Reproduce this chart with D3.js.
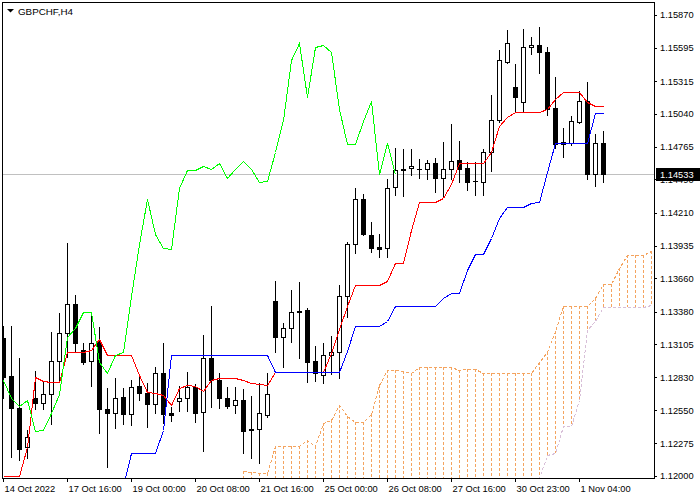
<!DOCTYPE html>
<html><head><meta charset="utf-8">
<script src="https://cdn.jsdelivr.net/npm/d3@7"></script>
<style>
html,body{margin:0;padding:0;background:#fff;}
svg{display:block;}
</style></head><body>
<svg id="c" width="700" height="500"></svg>
<script>
// ---- data (GBPCHF, H4) ----
const symbolTitle = "GBPCHF,H4";
const lastPrice = 1.14533;
const opens = [1.13159,1.12840,1.12571,1.12243,1.12655,1.12613,1.12688,1.12965,1.13200,1.13444,
1.13058,1.12965,1.13125,1.12562,1.12529,1.12663,1.12520,1.12756,1.12697,1.12604,
1.12865,1.12529,1.12630,1.12655,1.12747,1.12537,1.12991,1.12806,1.12655,1.12596,
1.12638,1.12395,1.12395,1.12512,1.13469,1.13167,1.13242,1.13385,1.13394,1.12965,
1.12848,1.13016,1.13041,1.13511,1.13948,1.14325,1.14023,1.13922,1.13914,1.14426,
1.14577,1.14586,1.14577,1.14577,1.14628,1.14502,1.14577,1.14653,1.14586,1.14477,
1.14468,1.14720,1.14989,1.15476,1.15266,1.15140,1.15601,1.15618,1.15559,1.15089,
1.14804,1.14796,1.14972,1.15148,1.14535,1.14796];
const highs = [1.13259,1.13259,1.12991,1.12386,1.12881,1.12789,1.13209,1.13368,1.13956,1.13519,
1.13117,1.13343,1.13251,1.12739,1.12823,1.12739,1.12806,1.12848,1.12781,1.12915,
1.13117,1.12579,1.12756,1.12873,1.12772,1.13184,1.13427,1.12865,1.12747,1.12747,
1.12730,1.12672,1.12781,1.12865,1.13637,1.13284,1.13561,1.13629,1.13410,1.13091,
1.13117,1.13175,1.13603,1.13964,1.14418,1.14367,1.14132,1.14032,1.14493,1.14754,
1.14745,1.14745,1.14661,1.14653,1.14670,1.14804,1.14955,1.14812,1.14636,1.14636,
1.14745,1.15199,1.15576,1.15744,1.15459,1.15753,1.15685,1.15769,1.15601,1.15350,
1.14921,1.15022,1.15232,1.15308,1.14871,1.14896];
const lows = [1.12655,1.12160,1.12134,1.12151,1.12562,1.12562,1.12437,1.12806,1.12999,1.13041,
1.12940,1.12756,1.12361,1.12076,1.12403,1.12437,1.12428,1.12638,1.12411,1.12529,
1.12445,1.12462,1.12546,1.12546,1.12453,1.12210,1.12579,1.12571,1.12571,1.12529,
1.12193,1.12151,1.12109,1.12495,1.13041,1.12915,1.13125,1.12991,1.12789,1.12798,
1.12781,1.12856,1.12823,1.13335,1.13872,1.14023,1.13880,1.13839,1.13839,1.14359,
1.14351,1.14527,1.14502,1.14493,1.14384,1.14351,1.14493,1.14468,1.14401,1.14359,
1.14359,1.14560,1.14972,1.15467,1.15056,1.15056,1.15543,1.15383,1.15031,1.14754,
1.14678,1.14779,1.14963,1.14493,1.14435,1.14468];
const closes = [1.12831,1.12571,1.12227,1.12327,1.12613,1.12688,1.12965,1.13200,1.13444,1.13117,
1.12957,1.13117,1.12562,1.12529,1.12655,1.12520,1.12747,1.12697,1.12604,1.12865,
1.12520,1.12512,1.12655,1.12747,1.12529,1.12991,1.12806,1.12655,1.12588,1.12638,
1.12378,1.12386,1.12529,1.12688,1.13167,1.13242,1.13377,1.13377,1.12957,1.12865,
1.13016,1.13041,1.13511,1.13948,1.14325,1.14032,1.13914,1.13906,1.14418,1.14569,
1.14569,1.14602,1.14578,1.14628,1.14502,1.14577,1.14644,1.14577,1.14468,1.14476,
1.14720,1.14989,1.15492,1.15635,1.15182,1.15601,1.15618,1.15559,1.15081,1.14787,
1.14787,1.14980,1.15148,1.14535,1.14796,1.14533];
// Tenkan-sen (red), bars 0..75
const tenkan = [1.12000,1.12000,1.12000,1.12243,1.12831,1.12798,1.12789,1.12789,1.13041,1.13041,
1.13041,1.13058,1.13150,1.13016,1.13016,1.13016,1.13016,1.12848,1.12705,1.12697,
1.12680,1.12596,1.12739,1.12764,1.12756,1.12714,1.12806,1.12823,1.12823,1.12823,
1.12806,1.12781,1.12772,1.12764,1.12873,1.12873,1.12873,1.12873,1.12873,1.12873,
1.12873,1.13033,1.13234,1.13427,1.13603,1.13603,1.13603,1.13603,1.13637,1.13788,
1.13788,1.14065,1.14300,1.14300,1.14300,1.14334,1.14451,1.14628,1.14628,1.14628,
1.14628,1.14720,1.14938,1.15014,1.15056,1.15056,1.15056,1.15056,1.15081,1.15165,
1.15224,1.15224,1.15224,1.15140,1.15106,1.15106];
// Kijun-sen (blue), bars 14..75
const kijunStart = 14;
const kijun = [1.11874,1.11916,1.12193,1.12193,1.12193,1.12193,1.12386,1.13016,1.13016,1.13016,
1.13016,1.13016,1.13016,1.13016,1.13016,1.13016,1.13016,1.13016,1.13016,1.13016,
1.12873,1.12873,1.12873,1.12873,1.12873,1.12873,1.12873,1.12873,1.12873,1.13049,
1.13259,1.13259,1.13259,1.13259,1.13301,1.13427,1.13427,1.13427,1.13427,1.13427,
1.13427,1.13494,1.13536,1.13536,1.13729,1.13864,1.13864,1.13998,1.14166,1.14258,
1.14258,1.14258,1.14292,1.14300,1.14552,1.14796,1.14796,1.14796,1.14796,1.14796,
1.15047,1.15047];
// Senkou span A / B (shifted forward), bars 30..81
const spanStart = 30;
const spanA = [1.12042,1.12034,1.12025,1.12025,1.12252,1.12252,1.12252,1.12252,1.12302,1.12252,
1.12445,1.12470,1.12596,1.12504,1.12453,1.12453,1.12520,1.12764,1.12890,1.12890,
1.12881,1.12865,1.12915,1.12915,1.12915,1.12915,1.12915,1.12890,1.12898,1.12898,
1.12865,1.12865,1.12865,1.12865,1.12865,1.12865,1.12865,1.12957,1.13041,1.13217,
1.13427,1.13427,1.13427,1.13427,1.13494,1.13612,1.13612,1.13746,1.13855,1.13855,
1.13855,1.13889];
const spanB = [1.11850,1.11850,1.11850,1.11850,1.11850,1.11850,1.11850,1.11850,1.11850,1.11850,
1.11850,1.11850,1.11850,1.11850,1.11850,1.11850,1.11850,1.11850,1.11850,1.11850,
1.11850,1.11850,1.11850,1.11850,1.11850,1.11850,1.11850,1.11983,1.12176,1.12193,
1.12420,1.12420,1.12638,1.13226,1.13301,1.13419,1.13419,1.13419,1.13419,1.13419,
1.13419,1.13436].slice(0);
// Chikou span (lime) = closes shifted back 26 bars
const chikouShift = 26;
const priceTicks = [1.15870,1.15595,1.15315,1.15040,1.14765,1.14490,1.14210,1.13935,1.13660,1.13380,1.13105,1.12830,1.12550,1.12275,1.12000];
const timeLabels = ["14 Oct 2022","17 Oct 16:00","19 Oct 00:00","20 Oct 08:00","21 Oct 16:00","25 Oct 00:00","26 Oct 08:00","27 Oct 16:00","30 Oct 23:00","1 Nov 04:00"];
const timeBars = [0,8,16,24,32,40,48,56,64,72];
</script>
<script>
// fix spanB length (pad leading hidden values to 52 entries)
while (spanB.length < spanA.length) spanB.unshift(1.11850);

const FONT = '"Liberation Sans", Arial, sans-serif';
const FS = 9.3;
const svg = d3.select("#c");
const x = d3.scaleLinear().domain([0, 81]).range([3, 651]);
const y = d3.scaleLinear().domain([1.12, 1.1587]).range([476, 15]);
const cx = i => Math.round(x(i));
const ry = v => Math.round(y(v));

svg.append("rect").attr("width",700).attr("height",500).attr("fill","#fff");
svg.append("clipPath").attr("id","plot").append("rect")
  .attr("x",3).attr("y",3).attr("width",651).attr("height",475);
const g = svg.append("g").attr("clip-path","url(#plot)");

// last price line
g.append("line").attr("x1",3).attr("x2",654)
  .attr("y1",ry(lastPrice)+0.5).attr("y2",ry(lastPrice)+0.5)
  .attr("stroke","#c0c0c0").attr("shape-rendering","crispEdges");

// Kumo hatch
const spanIdx = d3.range(spanA.length);
g.append("g").selectAll("line").data(spanIdx).join("line")
  .attr("x1", k => cx(spanStart+k)+0.5).attr("x2", k => cx(spanStart+k)+0.5)
  .attr("y1", k => ry(spanA[k])).attr("y2", k => ry(spanB[k]))
  .attr("stroke", k => spanA[k] >= spanB[k] ? "#f4a460" : "#d8bfd8")
  .attr("stroke-dasharray","3,2").attr("shape-rendering","crispEdges");

const lineGen = (vals, start) => d3.line()
  .x((d,k) => cx(start+k)+0.5).y(d => ry(d)+0.5)(vals);

g.append("path").attr("d", lineGen(spanA, spanStart)).attr("fill","none")
  .attr("stroke","#f4a460").attr("stroke-dasharray","3,2").attr("shape-rendering","crispEdges");
g.append("path").attr("d", lineGen(spanB, spanStart)).attr("fill","none")
  .attr("stroke","#d8bfd8").attr("stroke-dasharray","3,2").attr("shape-rendering","crispEdges");

// candles
const bars = d3.range(opens.length);
g.append("g").selectAll("line").data(bars).join("line")
  .attr("x1", i => cx(i)+0.5).attr("x2", i => cx(i)+0.5)
  .attr("y1", i => ry(highs[i])).attr("y2", i => ry(lows[i])+1)
  .attr("stroke","#000").attr("shape-rendering","crispEdges");
const bodies = g.append("g");
bars.forEach(i => {
  const t = ry(Math.max(opens[i], closes[i]));
  const b = ry(Math.min(opens[i], closes[i]));
  const c = cx(i);
  if (b - t < 1) {
    bodies.append("line").attr("x1",c-2).attr("x2",c+3).attr("y1",t+0.5).attr("y2",t+0.5)
      .attr("stroke","#000").attr("shape-rendering","crispEdges");
  } else if (closes[i] > opens[i]) {
    bodies.append("rect").attr("x",c-1.5).attr("y",t+0.5).attr("width",4).attr("height",b-t)
      .attr("fill","#fff").attr("stroke","#000").attr("shape-rendering","crispEdges");
  } else {
    bodies.append("rect").attr("x",c-2).attr("y",t).attr("width",5).attr("height",b-t+1)
      .attr("fill","#000").attr("shape-rendering","crispEdges");
  }
});

// indicator lines
g.append("path").attr("d", lineGen(tenkan, 0)).attr("fill","none")
  .attr("stroke","#ff0000").attr("shape-rendering","crispEdges");
g.append("path").attr("d", lineGen(kijun, kijunStart)).attr("fill","none")
  .attr("stroke","#0000ff").attr("shape-rendering","crispEdges");
g.append("path").attr("d", lineGen(closes.slice(chikouShift), 0)).attr("fill","none")
  .attr("stroke","#00ff00").attr("shape-rendering","crispEdges");

// frame
const frame = svg.append("g").attr("stroke","#000").attr("shape-rendering","crispEdges");
frame.append("line").attr("x1",2).attr("x2",655).attr("y1",2.5).attr("y2",2.5);
frame.append("line").attr("x1",2.5).attr("x2",2.5).attr("y1",2).attr("y2",479);
frame.append("line").attr("x1",654.5).attr("x2",654.5).attr("y1",2).attr("y2",479);
frame.append("line").attr("x1",2).attr("x2",655).attr("y1",478.5).attr("y2",478.5);

// price axis
const yAxis = d3.axisRight(y).tickValues(priceTicks).tickFormat(d3.format(".5f"))
  .tickSize(3).tickPadding(3);
const ya = svg.append("g").attr("transform","translate(654,0)").call(yAxis)
  .attr("font-family",FONT).attr("font-size",FS);
ya.select(".domain").remove();
ya.selectAll("line").attr("shape-rendering","crispEdges");

// last price label
const lp = svg.append("g");
lp.append("rect").attr("x",656).attr("y",ry(lastPrice)-6).attr("width",44).attr("height",13).attr("fill","#000");
lp.append("text").attr("x",660).attr("y",ry(lastPrice)+0.5).attr("dy","0.35em")
  .attr("font-family",FONT).attr("font-size",FS).attr("fill","#fff").text(d3.format(".5f")(lastPrice));

// time axis
const xAxis = d3.axisBottom(x).tickValues(timeBars).tickFormat((d,i) => timeLabels[i])
  .tickSize(4).tickPadding(3);
const xa = svg.append("g").attr("transform","translate(0,478)").call(xAxis)
  .attr("font-family",FONT).attr("font-size",FS);
xa.select(".domain").remove();
xa.selectAll("line").attr("shape-rendering","crispEdges");
xa.selectAll("text").attr("text-anchor","start").attr("x",1);

// title
svg.append("path").attr("d","M7,9 L14,9 L10.5,12.5 Z").attr("fill","#000");
svg.append("text").attr("x",18).attr("y",14.5).attr("font-family",FONT).attr("font-size",FS+0.5)
  .attr("fill","#000").text(symbolTitle);
</script>
</body></html>
